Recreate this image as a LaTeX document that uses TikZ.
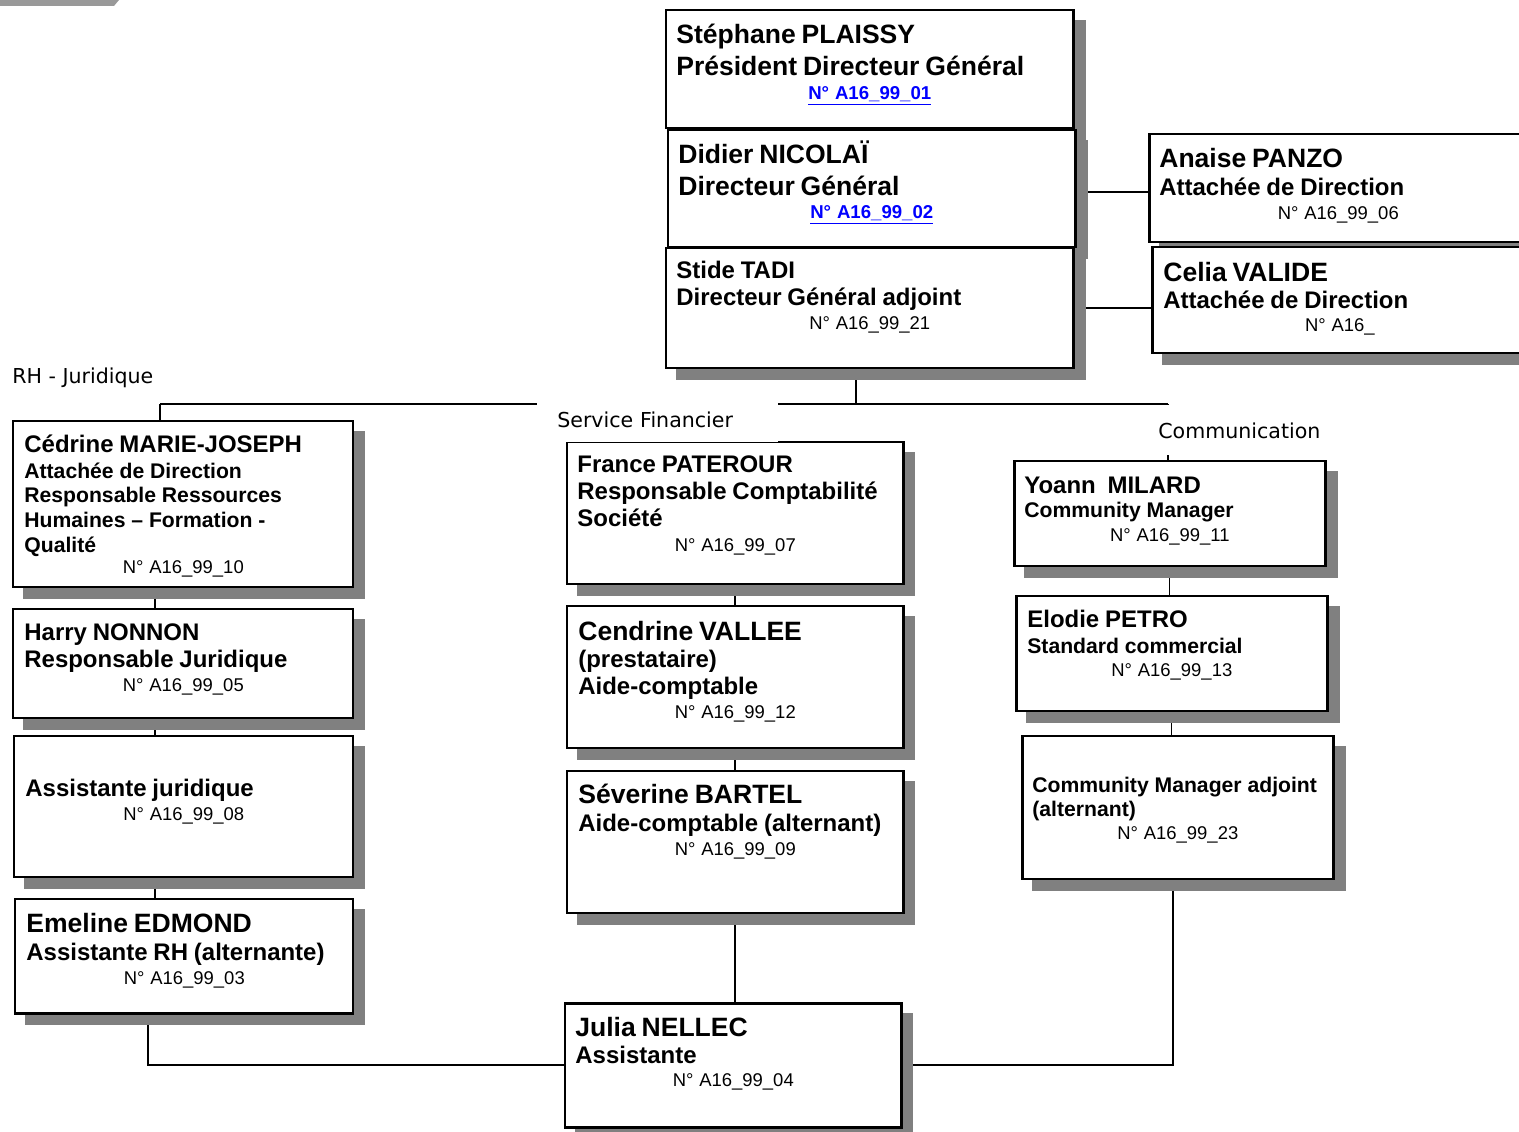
\documentclass[tikz,border=0pt]{standalone}
\usepackage{fontspec}
\setmainfont{Liberation Sans}
\newfontfamily\etiq{DejaVu Sans}
\usetikzlibrary{fit,shadows,backgrounds}

\definecolor{bleulien}{RGB}{0,0,255}
\newcommand\ligne[3]{{\fontsize{#1}{#2}\selectfont #3\par}}
\newcommand\numero[2]{{\fontsize{10.5}{#1}\selectfont\mdseries\centering N° A16\_#2\par}}
\newcommand\numlien[2]{{\fontsize{10.6}{#1}\selectfont\centering\color{bleulien}\underline{N° A16\_#2}\par}}

\tikzset{
  box/.style={draw, line width=1.7pt, fill=white, inner sep=0pt,
    drop shadow={shadow xshift=6.26pt, shadow yshift=-6.26pt, fill=gray, draw=gray, line width=1.7pt, opacity=1}},
  fiche/.style={anchor=base west, inner sep=0pt, align=left, font=\bfseries},
  etiquette/.style={anchor=base west, inner sep=0pt, font=\etiq\fontsize{11.7}{14}\selectfont},
  trait/.style={line width=1pt},
}

\begin{document}
\begin{tikzpicture}[x=0.02cm,y=-0.02cm]
\useasboundingbox (0,0) rectangle (1519,1132);
\clip (0,0) rectangle (1519,1132);

\fill[gray!80] (0,0) -- (119,0) -- (114,6) -- (0,6) -- cycle;

% direction
\node[box, fit={(666,10) (1073,128)}] (pdg) {};
\node[fiche, text width=7.74cm] (pdg-txt) at (676,44) {\ligne{15.1}{18}{Stéphane PLAISSY}\ligne{15.1}{18}{Président Directeur Général}\numlien{13.66}{99\_01}};
\node[box, fit={(668,130) (1075,247)}] (dg) {};
\node[fiche, text width=7.74cm] (dg-txt) at (678,164) {\ligne{15.1}{18}{Didier NICOLAÏ}\ligne{15.1}{18}{Directeur Général}\numlien{13.1}{99\_02}};
\node[box, fit={(666,248) (1073,368)}] (tadi) {};
\node[fiche, text width=7.74cm] (tadi-txt) at (676,278) {\ligne{13.65}{16}{Stide TADI}\ligne{13.65}{15.4}{Directeur Général adjoint}\numero{13.66}{99\_21}};

\node[box, fit={(1149,134) (1527,242)}] (anaise) {};
\node[fiche, text width=7.16cm] (anaise-txt) at (1159,168) {\ligne{15.1}{18}{Anaise PANZO}\ligne{13.65}{15.9}{Attachée de Direction}\numero{13.66}{99\_06}};
\node[box, fit={(1152,247) (1527,353)}] (celia) {};
\node[fiche, text width=7.06cm] (celia-txt) at (1163,281) {\ligne{15.1}{18}{Celia VALIDE}\ligne{13.65}{15.4}{Attachée de Direction}\numero{13.1}{}};

% RH - Juridique
\node[etiquette] (rh) at (12,383) {RH - Juridique};
\node[box, fit={(13,421) (353,587)}] (cedrine) {};
\node[fiche, text width=6.36cm] (cedrine-txt) at (24,452) {\ligne{13.65}{16}{Cédrine MARIE-JOSEPH}\ligne{12.05}{14.8}{Attachée de Direction}\ligne{12.05}{14.2}{Responsable Ressources}\ligne{12.05}{14.2}{Humaines – Formation -}\ligne{12.05}{14.2}{Qualité}\numero{11.95}{99\_10}};
\node[box, fit={(13,609) (353,718)}] (harry) {};
\node[fiche, text width=6.36cm] (harry-txt) at (24,640) {\ligne{13.65}{16}{Harry NONNON}\ligne{13.65}{15.9}{Responsable Juridique}\numero{13.66}{99\_05}};
\node[box, fit={(14,736) (353,877)}] (assjur) {};
\node[fiche, text width=6.34cm] (assjur-txt) at (25,796) {\ligne{13.65}{16}{Assistante juridique}\numero{13.66}{99\_08}};
\node[box, fit={(15,899) (353,1013)}] (emeline) {};
\node[fiche, text width=6.32cm] (emeline-txt) at (26,932) {\ligne{15.1}{18}{Emeline EDMOND}\ligne{13.65}{16.5}{Assistante RH (alternante)}\numero{13.66}{99\_03}};

% service financier
\node[box, fit={(567,442) (903,584)}] (france) {};
\node[fiche, text width=6.32cm] (france-txt) at (577,472) {\ligne{13.65}{16}{France PATEROUR}\ligne{13.65}{15.9}{Responsable Comptabilité}\ligne{13.65}{15.4}{Société}\numero{14.2}{99\_07}};
\node[etiquette, fill=white, inner xsep=0.4cm, text width=4.02cm, text height=0.52cm, text depth=0.3cm] (finance) at (537,427) {Service Financier};
\node[box, fit={(567,606) (903,748)}] (vallee) {};
\node[fiche, text width=6.28cm] (vallee-txt) at (578,640) {\ligne{15.1}{18}{Cendrine VALLEE}\ligne{13.65}{15.4}{(prestataire)}\ligne{13.65}{15.9}{Aide-comptable}\numero{13.66}{99\_12}};
\node[box, fit={(567,771) (903,913)}] (bartel) {};
\node[fiche, text width=6.28cm] (bartel-txt) at (578,803) {\ligne{15.1}{18}{Séverine BARTEL}\ligne{13.65}{16.5}{Aide-comptable (alternant)}\numero{13.1}{99\_09}};
\node[box, fit={(565,1003) (901,1127)}] (julia) {};
\node[fiche, text width=6.32cm] (julia-txt) at (575,1036) {\ligne{15.1}{18}{Julia NELLEC}\ligne{13.65}{15.9}{Assistante}\numero{13.1}{99\_04}};

% communication
\node[etiquette, fill=white, text height=0.66cm, text depth=0.34cm] (com) at (1158,438) {Communication};
\node[box, fit={(1014,461) (1325,566)}] (milard) {};
\node[fiche, text width=5.82cm] (milard-txt) at (1024,493) {\ligne{13.65}{16}{Yoann\ \ MILARD}\ligne{12.05}{13.66}{Community Manager}\numero{13.66}{99\_11}};
\node[box, fit={(1016,596) (1327,711)}] (petro) {};
\node[fiche, text width=5.78cm] (petro-txt) at (1027,627) {\ligne{13.65}{16}{Elodie PETRO}\ligne{12.05}{14.8}{Standard commercial}\numero{13.1}{99\_13}};
\node[box, fit={(1022,736) (1333,879)}] (cmadj) {};
\node[fiche, text width=5.82cm] (cmadj-txt) at (1032,792) {\ligne{12.05}{14}{Community Manager adjoint}\ligne{12.05}{13.66}{(alternant)}\numero{13.1}{99\_23}};

\begin{scope}[on background layer]
\coordinate (busG) at (160,404);
\coordinate (busM) at (856,404);
\coordinate (busD) at (1168,404);
\coordinate (colG) at (155,0);
\coordinate (coinG) at (148,1065);
\coordinate (coinD) at (1173,1065);
\coordinate (renvoi) at (0,192);
\draw[trait] (dg.east |- renvoi) -- (anaise.west |- renvoi);
\draw[trait] (tadi.east) -- (tadi.east -| celia.west);
\draw[trait] (tadi.south -| busM) -- (busM);
\draw[trait] (busG) -- (busD);
\draw[trait] (busG) -- (busG |- cedrine.north);
\draw[trait] (busD) -- (busD |- milard.north);
\draw[trait] (cedrine.south -| colG) -- (harry.north -| colG);
\draw[trait] (harry.south -| colG) -- (assjur.north -| colG);
\draw[trait] (assjur.south -| colG) -- (emeline.north -| colG);
\draw[trait] (emeline.south -| coinG) -- (coinG) -- (julia.west);
\draw[trait] (france.south) -- (vallee.north);
\draw[trait] (vallee.south) -- (bartel.north);
\draw[trait] (bartel.south) -- (bartel.south |- julia.north);
\draw[trait] (milard.south) -- (milard.south |- petro.north);
\draw[trait] (petro.south) -- (petro.south |- cmadj.north);
\draw[trait] (cmadj.south -| coinD) -- (coinD) -- (julia.east);
\end{scope}
\end{tikzpicture}
\end{document}
